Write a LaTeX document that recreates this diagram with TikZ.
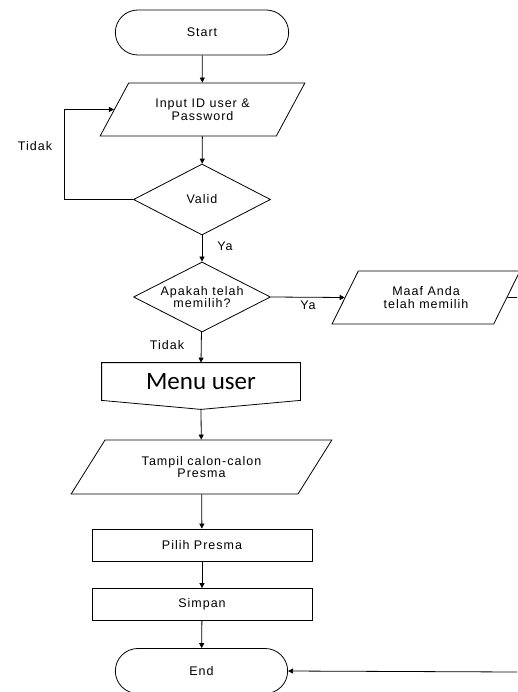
\documentclass[tikz,border=0pt]{standalone}
\usepackage{fontspec}
\setmainfont{Liberation Sans}[LetterSpace=8]
\newfontfamily\menufont{Carlito}
\usepackage{tikz}
\usetikzlibrary{shapes.geometric, shapes.misc, arrows.meta}

\tikzset{
    terminal/.style={draw, rounded rectangle, minimum width=180pt, minimum height=45pt},
    io/.style={draw, trapezium, trapezium stretches=true, align=center},
    decision/.style={draw, diamond, aspect=2, inner sep=0pt, align=center},
    process/.style={draw, rectangle, minimum width=220pt, minimum height=32pt},
    flow/.style={-{Triangle[length=5pt,width=5pt]}},
}

\begin{document}
\begin{tikzpicture}[x=1pt, y=-1pt, line width=0.8pt,
    font=\fontsize{12.5}{12.5}\selectfont]
        \useasboundingbox (0,0) rectangle (517,692);
        % Flow boxes
        \node[terminal] (start) at (202,32.5) {Start};
        \node[io, trapezium left angle=55, trapezium right angle=125,
              minimum width=205pt, minimum height=53pt] (input) at (202.5,109.5) {Input ID user \&\\Password};
        \node[decision, minimum width=137pt, minimum height=71pt] (valid) at (202,199.5) {Valid};
        \node[decision, minimum width=137pt, minimum height=70pt] (apakah) at (202,297) {Apakah telah\\memilih?};
        \node[io, trapezium left angle=58, trapezium right angle=122,
              minimum width=188pt, minimum height=53pt] (maaf) at (426,297.5) {Maaf Anda\\telah memilih};
        \node[minimum width=198pt, minimum height=37pt, inner sep=0pt,
              font=\menufont\fontsize{25}{27}\selectfont] (menu) at (201,381.5) {Menu user};
        \draw (menu.north west) -- (menu.north east) -- (menu.south east)
              -- ([yshift=-9pt]menu.south) -- (menu.south west) -- cycle;
        \node[io, trapezium left angle=52, trapezium right angle=128,
              minimum width=261pt, minimum height=54pt] (tampil) at (201.5,467) {Tampil calon-calon\\Presma};
        \node[process] (pilih) at (202,545) {Pilih Presma};
        \node[process] (simpan) at (202,604.5) {Simpan};
        \node[terminal, minimum width=179pt] (end) at (201.5,671) {End};
        % Off-page ends
        \coordinate (outA) at (517,297.5);
        \coordinate (outB) at (517,672);
        % Arrows
        \draw[flow] (start) -- (input);
        \draw[flow] (input) -- (valid);
        \draw[flow] (valid.west) -| ([xshift=-50pt]input.west) -- (input.west);
        \draw[flow] (valid) -- (apakah);
        \draw[flow] (apakah.east) -- (maaf.west);
        \draw (maaf.east) -- (outA);
        \draw[flow] (apakah) -- (menu.north);
        \draw[flow] ([yshift=-9pt]menu.south) -- (tampil);
        \draw[flow] (tampil) -- (pilih);
        \draw[flow] (pilih) -- (simpan);
        \draw[flow] (simpan) -- (end);
        \draw[flow] (outB) -- (end.east);
        % Labels
        \node (tidakA) at (35,146) {Tidak};
        \node (yaA) at (225,246) {Ya};
        \node (yaB) at (308,305) {Ya};
        \node (tidakB) at (167,345) {Tidak};
    \end{tikzpicture}
\end{document}
